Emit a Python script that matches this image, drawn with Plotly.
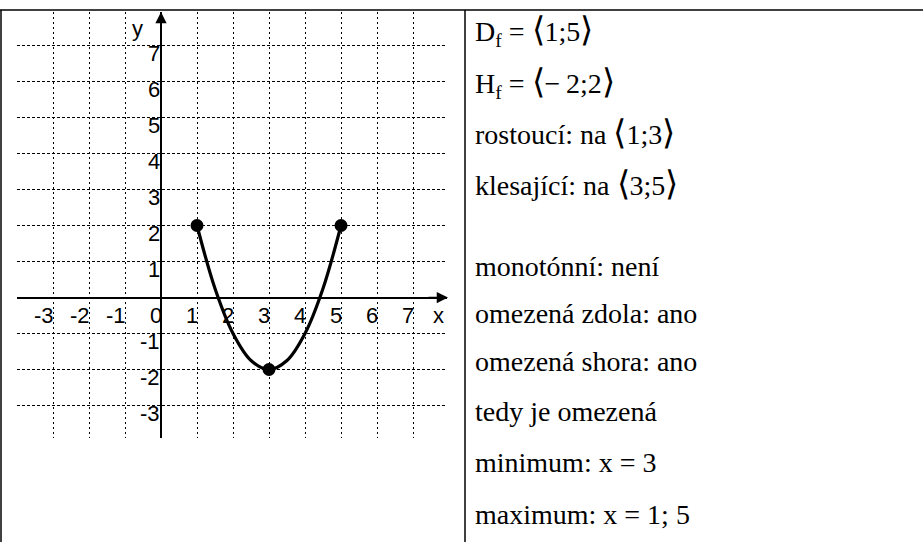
import plotly.graph_objects as go

# Figure size in pixels
W, H = 923, 542

# Function f on <1;5>: sampled points of the curve
curve_x = [1, 1.5, 2, 2.5, 3, 3.5, 4, 4.5, 5]
curve_y = [2, 0.25, -1, -1.75, -2, -1.75, -1, 0.25, 2]

# Highlighted points (end points and the minimum)
point_x = [1, 3, 5]
point_y = [2, -2, 2]

# Axis tick labels
x_ticks = [-3, -2, -1, 0, 1, 2, 3, 4, 5, 6, 7]
y_ticks = [-3, -2, -1, 1, 2, 3, 4, 5, 6, 7]

# Properties listed in the right-hand column
properties = [
    "D<sub>f</sub> = {L}1;5{R}",
    "H<sub>f</sub> = {L}−\u20092;2{R}",
    "rostoucí: na {L}1;3{R}",
    "klesající: na {L}3;5{R}",
    "monotónní: není",
    "omezená zdola: ano",
    "omezená shora: ano",
    "tedy je omezená",
    "minimum: x = 3",
    "maximum: x = 1; 5",
]
# Baseline of each text line (px from the top)
baselines = [40, 92, 141, 192, 275, 322, 370, 420, 471, 523]

# Pixel layout of the grid: origin and size of one unit
X0, Y0, UNIT = 161.0, 297.5, 36.0
GRID_LEFT, GRID_RIGHT, GRID_TOP, GRID_BOTTOM = 17, 447, 12, 438


def px_to_x(px):
    return (px - X0) / UNIT


def py_to_y(py):
    return (Y0 - py) / UNIT


SANS = "Liberation Sans"
SERIF = "Liberation Serif"

fig = go.Figure()

fig.add_trace(go.Scatter(
    x=curve_x, y=curve_y, mode="lines",
    line=dict(color="black", width=3.2, shape="spline", smoothing=1.0),
    hoverinfo="skip", cliponaxis=False,
))
fig.add_trace(go.Scatter(
    x=point_x, y=point_y, mode="markers",
    marker=dict(color="black", size=13),
    hoverinfo="skip", cliponaxis=False,
))

annotations = []

# Axis arrow heads
annotations.append(dict(
    x=px_to_x(GRID_RIGHT + 1), y=0, ax=px_to_x(GRID_RIGHT - 20), ay=0,
    xref="x", yref="y", axref="x", ayref="y", text="", showarrow=True,
    arrowhead=2, arrowsize=1.5, arrowwidth=1.5, arrowcolor="black", standoff=0,
))
annotations.append(dict(
    x=0, y=py_to_y(GRID_TOP), ax=0, ay=py_to_y(GRID_TOP + 20),
    xref="x", yref="y", axref="x", ayref="y", text="", showarrow=True,
    arrowhead=2, arrowsize=1.5, arrowwidth=1.5, arrowcolor="black", standoff=0,
))

# Tick labels on the x axis (left of each grid line, below the axis)
for v in x_ticks:
    annotations.append(dict(
        x=v, y=-0.5, xref="x", yref="y", text=str(v), showarrow=False,
        xanchor="right", yanchor="middle", xshift=3,
        font=dict(family=SANS, size=22, color="black"),
    ))
# Tick labels on the y axis (left of the axis, just under each grid line)
for v in y_ticks:
    annotations.append(dict(
        x=0, y=v - 0.21, xref="x", yref="y", text=str(v), showarrow=False,
        xanchor="right", yanchor="middle", xshift=1,
        font=dict(family=SANS, size=22, color="black"),
    ))
# Axis names
annotations.append(dict(x=-0.64, y=7.46, xref="x", yref="y", text="y", showarrow=False,
                        xanchor="center", yanchor="middle",
                        font=dict(family=SANS, size=22, color="black")))
annotations.append(dict(x=7.7, y=-0.5, xref="x", yref="y", text="x", showarrow=False,
                        xanchor="center", yanchor="middle",
                        font=dict(family=SANS, size=22, color="black")))

# Right-hand column text
BR_L = '<span style="font-size:34px">\u27e8</span>'
BR_R = '<span style="font-size:34px">\u27e9</span>'
for txt, base in zip(properties, baselines):
    annotations.append(dict(
        x=473 / W, y=1 - (base - 9) / H, xref="paper", yref="paper",
        text=txt.format(L=BR_L, R=BR_R), showarrow=False,
        xanchor="left", yanchor="middle", align="left",
        font=dict(family=SERIF, size=28, color="black"),
    ))

# Table frame
line = dict(color="black", width=1.5)
shapes = [
    dict(type="line", xref="paper", yref="paper", x0=0, x1=1, y0=1 - 10 / H, y1=1 - 10 / H, line=line),
    dict(type="line", xref="paper", yref="paper", x0=1 / W, x1=1 / W, y0=0, y1=1 - 10 / H, line=line),
    dict(type="line", xref="paper", yref="paper", x0=465 / W, x1=465 / W, y0=0, y1=1 - 10 / H, line=line),
]

fig.update_layout(
    width=W, height=H, autosize=False,
    margin=dict(l=0, r=0, t=0, b=0, pad=0),
    paper_bgcolor="white", plot_bgcolor="white",
    showlegend=False,
    annotations=annotations,
    shapes=shapes,
    xaxis=dict(
        domain=[GRID_LEFT / W, GRID_RIGHT / W],
        range=[px_to_x(GRID_LEFT), px_to_x(GRID_RIGHT)],
        tickmode="array", tickvals=x_ticks, showticklabels=False, ticks="",
        showgrid=True, gridcolor="black", gridwidth=1, griddash="2px,3px",
        zeroline=True, zerolinecolor="black", zerolinewidth=1.5,
        showline=False, fixedrange=True,
    ),
    yaxis=dict(
        domain=[1 - GRID_BOTTOM / H, 1 - GRID_TOP / H],
        range=[py_to_y(GRID_BOTTOM), py_to_y(GRID_TOP)],
        tickmode="array", tickvals=y_ticks, showticklabels=False, ticks="",
        showgrid=True, gridcolor="black", gridwidth=1, griddash="3px,2px",
        zeroline=True, zerolinecolor="black", zerolinewidth=1.5,
        showline=False, fixedrange=True,
    ),
)

fig.write_html("out.html", config={"displayModeBar": False})
